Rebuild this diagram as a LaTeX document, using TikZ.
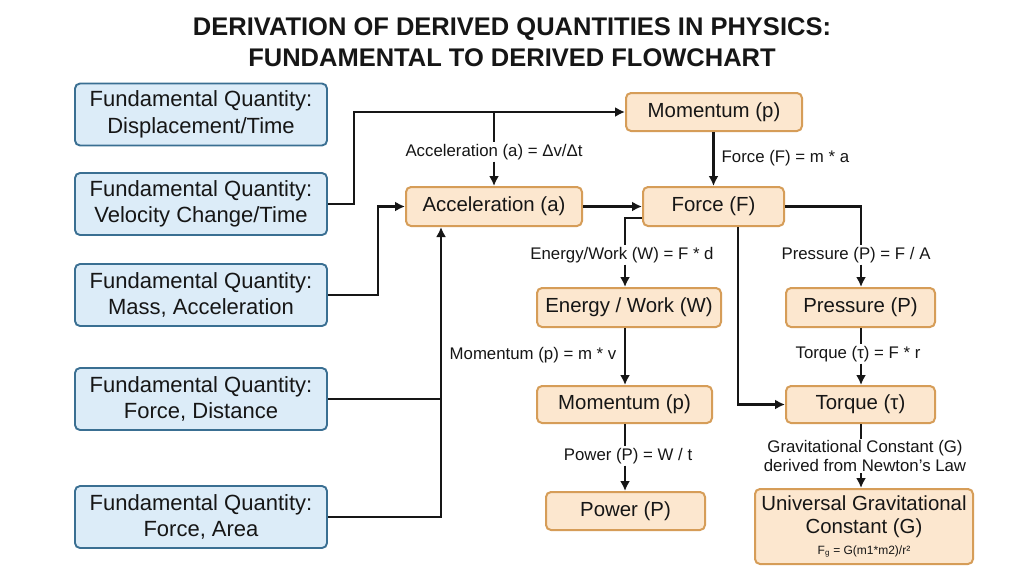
\documentclass[tikz,border=0pt]{standalone}
\usepackage{fontspec}
\setmainfont{Liberation Sans}
\usetikzlibrary{arrows.meta,calc}
\definecolor{bfill}{HTML}{DCECF8}
\definecolor{bdraw}{HTML}{3A6F92}
\definecolor{ofill}{HTML}{FCE7CF}
\definecolor{odraw}{HTML}{D69D58}
\definecolor{ink}{HTML}{161616}
\tikzset{
  fund/.style={draw=bdraw, fill=bfill, line width=1.9pt, rounded corners=5pt,
    minimum width=252pt, minimum height=62pt, align=center,
    font=\fontsize{22}{26.5}\selectfont, text=ink, inner sep=0pt},
  der/.style={draw=odraw, fill=ofill, line width=2pt, rounded corners=5pt,
    minimum height=38pt, align=center, font=\fontsize{20.4}{23}\selectfont,
    text=ink, inner sep=0pt},
  lbl/.style={font=\fontsize{16.8}{18.5}\selectfont, text=ink, inner sep=1.5pt, align=center},
  conn/.style={draw=ink, line width=2.1pt},
  arr/.style={conn, -{Latex[length=10pt,width=10pt]}}
}
\begin{document}
\begin{tikzpicture}[x=1pt,y=-1pt]
\useasboundingbox[fill=white] (0,0) rectangle (1024,576);

\node[font=\bfseries\fontsize{25.5}{31}\selectfont, align=center, text=ink] (title) at (512,42)
  {DERIVATION OF DERIVED QUANTITIES IN PHYSICS:\\FUNDAMENTAL TO DERIVED FLOWCHART};

% fundamental quantities
\node[fund] (d1) at (201,114.5) {Fundamental Quantity:\\Displacement/Time};
\node[fund] (d2) at (201,204) {Fundamental Quantity:\\Velocity Change/Time};
\node[fund] (d3) at (201,295) {Fundamental Quantity:\\Mass, Acceleration};
\node[fund] (d4) at (201,399) {Fundamental Quantity:\\Force, Distance};
\node[fund] (d5) at (201,517) {Fundamental Quantity:\\Force, Area};

% derived quantities
\node[der, minimum width=176pt] (mom1) at (714,112) {Momentum (p)};
\node[der, minimum width=176pt, minimum height=39pt] (acc) at (494,206.5) {Acceleration (a)};
\node[der, minimum width=141pt, minimum height=39pt] (force) at (713.5,206.5) {Force (F)};
\node[der, minimum width=184pt, minimum height=39pt] (energy) at (629,307.5) {Energy / Work (W)};
\node[der, minimum width=149pt, minimum height=39pt] (pressure) at (860.5,307.5) {Pressure (P)};
\node[der, minimum width=175pt, minimum height=37pt] (mom2) at (624.5,404.5) {Momentum (p)};
\node[der, minimum width=149pt, minimum height=37pt] (torque) at (860.5,404.5) {Torque (τ)};
\node[der, minimum width=159pt] (power) at (625.5,511) {Power (P)};
\node[der, minimum width=218pt, minimum height=75pt] (ug) at (864,526.5)
  {Universal Gravitational\\Constant (G)\\[-2pt]{\fontsize{12}{13}\selectfont F\textsubscript{g} = G(m1*m2)/r²}};

% labels
\node[lbl] (lacc) at (494,152) {Acceleration (a) = Δv/Δt};
\node[lbl, anchor=west] (lforce) at (720,158) {Force (F) = m * a};
\node[lbl] (lenergy) at (622,255) {Energy/Work (W) = F * d};
\node[lbl] (lpress) at (856,255) {Pressure (P) = F / A};
\node[lbl, anchor=east] (lmom) at (618,355) {Momentum (p) = m * v};
\node[lbl] (lpower) at (628,456) {Power (P) = W / t};
\node[lbl] (ltorque) at (858,354) {Torque (τ) = F * r};
\node[lbl] (lgrav) at (865,456) {Gravitational Constant (G)\\derived from Newton's Law};

% connectors
\coordinate (j1) at (acc.north |- mom1.west);
\draw[arr] (d2.east) -- ++(26,0) |- (mom1.west);
\draw[conn] (j1) -- (lacc.north -| j1);
\draw[arr] (lacc.south -| j1) -- (acc.north);
\draw[arr] (d3.east) -- ++(50,0) |- (acc.west);
\coordinate (accin) at ($(acc.south)+(-53,0)$);
\draw[arr] (d5.east) -| (accin);
\draw[conn] (d4.east) -- (d4.east -| accin);

\draw[arr] (acc.east) -- (force.west);
\draw[arr] (mom1.south -| force.north) -- (force.north);

\coordinate (fw) at ($(force.west)+(0,11.5)$);
\coordinate (ex) at (625,0);
\draw[conn] (fw) -| (lenergy.north -| ex);
\draw[arr] (lenergy.south -| ex) -- (energy.north -| ex);

\coordinate (px) at (861,0);
\draw[conn] (force.east) -| (lpress.north -| px);
\draw[arr] (lpress.south -| px) -- (pressure.north -| px);

\draw[arr] ($(force.south)+(24.5,0)$) |- (torque.west);

\draw[arr] (energy.south -| ex) -- (mom2.north -| ex);
\draw[conn] (mom2.south -| ex) -- (lpower.north -| ex);
\draw[arr] (lpower.south -| ex) -- (power.north -| ex);

\draw[conn] (pressure.south -| px) -- (ltorque.north -| px);
\draw[arr] (ltorque.south -| px) -- (torque.north -| px);
\draw[conn] (torque.south -| px) -- (lgrav.north -| px);
\draw[arr] (lgrav.south -| px) -- (ug.north -| px);
\end{tikzpicture}
\end{document}
